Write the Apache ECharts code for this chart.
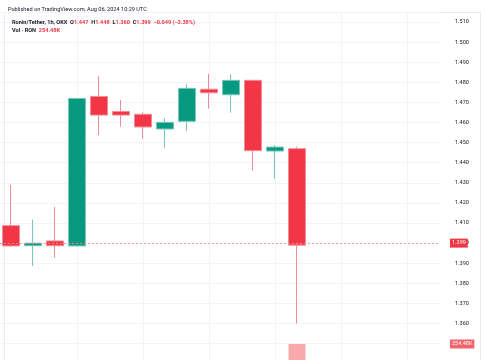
<!DOCTYPE html>
<html><head><meta charset="utf-8">
<script src="https://cdn.jsdelivr.net/npm/echarts@6/dist/echarts.min.js"></script>
<style>html,body{margin:0;padding:0;background:#fff}#c{width:485px;height:360px}</style>
</head><body><div id="c"></div>
<script>
// hourly candles, Ronin/Tether 1h OKX (UTC)
const categories = ['20:00','21:00','22:00','23:00','00:00','01:00','02:00','03:00','04:00','05:00','06:00','07:00','08:00','09:00','10:00','11:00','12:00','13:00','14:00','15:00'];
const opens  = [1.4087,1.3987,1.4011,1.3986,1.4730,1.4655,1.4641,1.4568,1.4606,1.4766,1.4738,1.4810,1.4458,1.447];
const closes = [1.3986,1.4000,1.3987,1.4720,1.4637,1.4637,1.4578,1.4601,1.4770,1.4748,1.4810,1.4460,1.4478,1.399];
const lows   = [1.3981,1.3886,1.3927,1.3984,1.4538,1.4579,1.4520,1.4472,1.4559,1.4669,1.4649,1.4360,1.4320,1.360];
const highs  = [1.4289,1.4118,1.4180,1.4722,1.4831,1.4712,1.4651,1.4621,1.4792,1.4841,1.4841,1.4812,1.4488,1.448];
const volumesK = [null,null,null,null,null,null,null,null,null,null,null,null,null,254.48];
const lastPrice = 1.399;
const lastVolumeK = 254.48;
const gridCategories = ['23:00','02:00','05:00','08:00','11:00','14:00'];

const RED = '#f23645', GREEN = '#089981';
const candleData = opens.map((o,i)=>[o, closes[i], lows[i], highs[i]]);
const volData = volumesK.map(v => v == null ? '-' : v);

const chart = echarts.init(document.getElementById('c'), null, {renderer:'canvas'});
const FONT = 'Roboto';
chart.setOption({
  animation:false,
  backgroundColor:'#ffffff',
  title:[
    {text:'Published on TradingView.com, Aug 06, 2024 10:29 UTC', left:3, top:2,
     textStyle:{fontSize:5.6, fontWeight:'normal', color:'#131722', fontFamily:FONT}},
    {text:'{n|Ronin/Tether, 1h, OKX  O}{r|1.447}{n|  H}{r|1.448}{n|  L}{r|1.360}{n|  C}{r|1.399}{r|  −0.049 (−3.38%)}', left:7, top:15,
     textStyle:{rich:{n:{fontSize:5.6,color:'#131722',fontFamily:FONT}, r:{fontSize:5.6,color:RED,fontFamily:FONT}}}},
    {text:'{n|Vol · RON  }{r|254.48K}', left:7, top:22.5,
     textStyle:{rich:{n:{fontSize:5.6,color:'#131722',fontFamily:FONT}, r:{fontSize:5.6,color:RED,fontFamily:FONT}}}}
  ],
  graphic:[{type:'rect', shape:{x:4.5,y:12.5,width:476,height:360}, style:{fill:'none',stroke:'#e8eaf0',lineWidth:1}, silent:true, z:-1}],
  grid:[
    {left:0, width:440, top:12, height:351.7, containLabel:false, outerBoundsMode:'none'},
    {left:0, width:440, top:344, height:16, containLabel:false, outerBoundsMode:'none'}
  ],
  xAxis:[
    {type:'category', data:categories, gridIndex:0, boundaryGap:true, show:false},
    {type:'category', data:categories, gridIndex:1, boundaryGap:true, show:false}
  ],
  yAxis:[
    {type:'value', gridIndex:0, position:'right', min:1.34, max:1.515, interval:0.01,
     axisLine:{show:false}, axisTick:{show:false},
     splitLine:{show:true, lineStyle:{color:'#f0f3fa', width:1}},
     axisLabel:{margin:15, fontSize:5.5, color:'#131722', fontFamily:FONT, showMaxLabel:false,
       formatter:v=>v.toFixed(3)}},
    {type:'value', gridIndex:1, min:0, max:lastVolumeK, show:false, splitLine:{show:false}}
  ],
  series:[
    {type:'line', xAxisIndex:0, yAxisIndex:0, data:[], silent:true,
     markLine:{z:1, silent:true, symbol:['none','none'], label:{show:false},
       lineStyle:{color:'#f0f3fa', type:'solid', width:1},
       data:gridCategories.map(c=>({xAxis:c}))}},
    {type:'candlestick', name:'RON/USDT', xAxisIndex:0, yAxisIndex:0, data:candleData, barWidth:17,
     itemStyle:{color:GREEN, color0:RED, borderColor:'#7cc7b9', borderColor0:'#f08c97', borderWidth:1},
     markLine:{z:3, silent:true, symbol:['none','none'],
       lineStyle:{color:'#f28c96', type:[2,2], width:1, opacity:0.85},
       label:{show:true, opacity:1, position:'end', distance:10,
           color:'#fff', backgroundColor:RED, fontSize:5.5, fontFamily:FONT, padding:[2,2,1,2]},
       data:[{yAxis:lastPrice, label:{formatter:lastPrice.toFixed(3)}}]}},
    {type:'bar', name:'Vol', xAxisIndex:1, yAxisIndex:1, data:volData, barWidth:17,
     itemStyle:{color:'#f7a9ab'},
     markLine:{z:5, silent:true, symbol:['none','none'],
       data:[{yAxis:lastVolumeK,
         lineStyle:{color:'rgba(0,0,0,0)', width:1},
         label:{show:true, opacity:1, position:'end', distance:10, formatter:lastVolumeK.toFixed(2)+'K',
           color:'#fff', backgroundColor:'#f0646b', fontSize:5.5, fontFamily:FONT, padding:[2,2,1,2]}}]}}
  ]
});
</script></body></html>
